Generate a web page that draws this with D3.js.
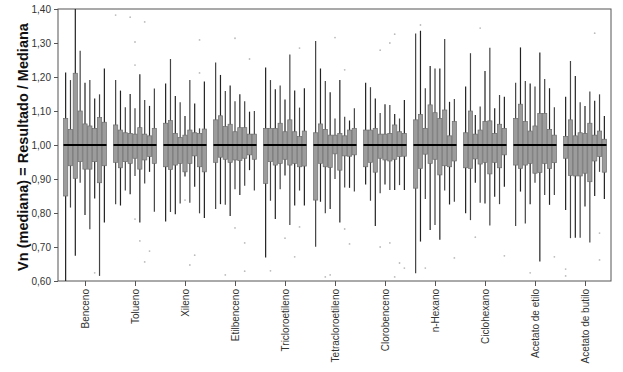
<!DOCTYPE html>
<html>
<head>
<meta charset="utf-8">
<script src="https://cdn.jsdelivr.net/npm/d3@7"></script>
<style>
  body { margin: 0; background: #fff; }
  svg { font-family: "Liberation Sans", Arial, sans-serif; }
</style>
</head>
<body>
<svg id="chart" width="623" height="372"></svg>
<script>
// Compuestos (categorías del eje X)
const categories = ["Benceno", "Tolueno", "Xileno", "Etilbenceno", "Tricloroetileno",
  "Tetracloroetileno", "Clorobenceno", "n-Hexano", "Ciclohexano", "Acetato de etilo", "Acetato de butilo"];

// Marcas del eje Y
const yTicks = [0.60, 0.70, 0.80, 0.90, 1.00, 1.10, 1.20, 1.30, 1.40];

// Mediana (todas las cajas normalizadas)
const median = 1.00;

// Nueve cajas por compuesto: bigote superior, Q3, Q1, bigote inferior
const whiskerHigh = [
  [1.213, 1.191, 1.40, 1.277, 1.183, 1.191, 1.137, 1.149, 1.225],
  [1.191, 1.160, 1.111, 1.150, 1.108, 1.208, 1.132, 1.115, 1.166],
  [1.181, 1.253, 1.144, 1.126, 1.085, 1.191, 1.122, 1.049, 1.187],
  [1.243, 1.206, 1.159, 1.175, 1.129, 1.149, 1.129, 1.098, 1.100],
  [1.228, 1.191, 1.164, 1.175, 1.134, 1.266, 1.160, 1.110, 1.167],
  [1.306, 1.225, 1.188, 1.155, 1.078, 1.191, 1.083, 1.072, 1.108],
  [1.183, 1.170, 1.137, 1.094, 1.120, 1.118, 1.091, 1.078, 1.132],
  [1.328, 1.336, 1.167, 1.232, 1.225, 1.225, 1.312, 1.127, 1.135],
  [1.172, 1.270, 1.088, 1.113, 1.218, 1.286, 1.108, 1.147, 1.142],
  [1.183, 1.287, 1.188, 1.181, 1.172, 1.272, 1.194, 1.167, 1.111],
  [1.142, 1.247, 1.203, 1.126, 1.115, 1.157, 1.130, 1.149, 1.085]
];
const q3 = [
  [1.078, 1.046, 1.211, 1.100, 1.062, 1.056, 1.049, 1.081, 1.067],
  [1.059, 1.044, 1.036, 1.034, 1.032, 1.051, 1.032, 1.027, 1.049],
  [1.064, 1.072, 1.034, 1.022, 1.029, 1.044, 1.036, 1.034, 1.047],
  [1.074, 1.086, 1.054, 1.061, 1.039, 1.051, 1.051, 1.032, 1.032],
  [1.049, 1.049, 1.049, 1.064, 1.039, 1.074, 1.039, 1.025, 1.041],
  [1.036, 1.062, 1.046, 1.029, 1.029, 1.034, 1.027, 1.044, 1.049],
  [1.044, 1.044, 1.049, 1.032, 1.032, 1.034, 1.059, 1.039, 1.034],
  [1.074, 1.090, 1.049, 1.118, 1.095, 1.078, 1.103, 1.027, 1.069],
  [1.036, 1.100, 1.032, 1.044, 1.069, 1.071, 1.034, 1.061, 1.049],
  [1.078, 1.120, 1.069, 1.041, 1.056, 1.093, 1.093, 1.046, 1.029],
  [1.025, 1.074, 1.027, 1.036, 1.034, 1.064, 1.029, 1.041, 1.017]
];
const q1 = [
  [0.850, 0.939, 0.902, 0.951, 0.929, 0.929, 0.951, 0.889, 0.939],
  [0.949, 0.933, 0.951, 0.946, 0.961, 0.929, 0.956, 0.966, 0.946],
  [0.936, 0.928, 0.941, 0.946, 0.921, 0.946, 0.968, 0.936, 0.921],
  [0.949, 0.964, 0.958, 0.949, 0.956, 0.954, 0.961, 0.971, 0.958],
  [0.887, 0.951, 0.941, 0.946, 0.958, 0.941, 0.946, 0.936, 0.938],
  [0.838, 0.946, 0.936, 0.934, 0.974, 0.926, 0.968, 0.967, 0.971],
  [0.936, 0.949, 0.920, 0.961, 0.956, 0.953, 0.958, 0.966, 0.967],
  [0.873, 0.931, 0.973, 0.946, 0.958, 0.912, 0.939, 0.936, 0.953],
  [0.933, 0.931, 0.959, 0.944, 0.949, 0.915, 0.949, 0.933, 0.971],
  [0.941, 0.931, 0.941, 0.946, 0.917, 0.919, 0.946, 0.931, 0.948],
  [0.961, 0.910, 0.909, 0.909, 0.917, 0.892, 0.953, 0.966, 0.920]
];
const whiskerLow = [
  [0.600, 0.816, 0.674, 0.889, 0.794, 0.752, 0.843, 0.615, 0.772],
  [0.826, 0.822, 0.866, 0.855, 0.909, 0.772, 0.887, 0.921, 0.804],
  [0.775, 0.803, 0.796, 0.828, 0.907, 0.830, 0.877, 0.799, 0.785],
  [0.812, 0.826, 0.824, 0.791, 0.870, 0.853, 0.880, 0.926, 0.866],
  [0.669, 0.836, 0.782, 0.870, 0.910, 0.765, 0.822, 0.866, 0.822],
  [0.701, 0.833, 0.799, 0.812, 0.900, 0.772, 0.875, 0.874, 0.863],
  [0.884, 0.836, 0.762, 0.858, 0.884, 0.868, 0.868, 0.882, 0.868],
  [0.623, 0.716, 0.841, 0.750, 0.765, 0.721, 0.866, 0.825, 0.833],
  [0.799, 0.779, 0.889, 0.830, 0.828, 0.763, 0.848, 0.826, 0.877],
  [0.762, 0.863, 0.769, 0.826, 0.889, 0.657, 0.853, 0.824, 0.853],
  [0.809, 0.726, 0.727, 0.727, 0.819, 0.713, 0.850, 0.921, 0.841]
];

// Valores atípicos: [compuesto, caja, valor]
const outliers = [
  [0, 6, 0.624],
  [1, 0, 1.382], [1, 3, 1.376], [1, 6, 1.362], [1, 4, 1.303], [1, 4, 1.235],
  [1, 4, 0.782], [1, 5, 0.718], [1, 7, 0.688], [1, 6, 0.656],
  [2, 7, 1.309], [2, 7, 1.212], [2, 4, 0.838], [2, 5, 0.647], [2, 6, 0.676],
  [3, 4, 1.314], [3, 7, 1.253], [3, 4, 0.756], [3, 6, 0.712], [3, 6, 0.629], [3, 2, 0.618],
  [4, 7, 1.285], [4, 1, 0.630], [4, 4, 0.726], [4, 6, 0.671], [4, 7, 0.759],
  [5, 4, 1.316], [5, 6, 1.221], [5, 6, 0.753], [5, 7, 0.709], [5, 2, 0.612], [5, 3, 0.618],
  [6, 3, 1.279], [6, 5, 1.300], [6, 6, 1.326], [6, 3, 0.700], [6, 5, 0.712],
  [6, 7, 0.653], [6, 6, 0.612], [6, 8, 0.638],
  [7, 2, 0.638], [7, 1, 1.353], [7, 8, 0.668],
  [8, 3, 1.344], [8, 2, 0.729], [8, 8, 0.674],
  [9, 3, 0.624], [9, 8, 0.671],
  [10, 6, 1.329], [10, 0, 0.635], [10, 0, 0.615], [10, 7, 0.741], [10, 7, 0.662]
];

const nBoxes = 9;

const svg = d3.select("#chart");

// Área del gráfico
const mLeft = 58, mRight = 611, mTop = 9, mBottom = 281;

const y = d3.scaleLinear().domain([0.6, 1.4]).range([mBottom, mTop]);
const x = d3.scalePoint().domain(categories).range([85, 585]);
const inner = d3.scaleBand().domain(d3.range(nBoxes)).range([-21.5, 21.5]).paddingInner(0.12);

// Marco
svg.append("rect")
  .attr("x", mLeft).attr("y", mTop)
  .attr("width", mRight - mLeft).attr("height", mBottom - mTop)
  .attr("fill", "none").attr("stroke", "#555").attr("stroke-width", 1);

// Eje Y
const yAxis = svg.append("g")
  .attr("transform", `translate(${mLeft},0)`)
  .call(d3.axisLeft(y).tickValues(yTicks).tickSize(4)
    .tickFormat(d => d3.format(".2f")(d).replace(".", ",")));
yAxis.select(".domain").remove();
yAxis.selectAll("line").attr("stroke", "#555");
yAxis.selectAll("text").attr("fill", "#333").attr("font-size", 10)
  .attr("font-family", "Liberation Sans, Arial, sans-serif");

// Eje X
const xAxis = svg.append("g")
  .attr("transform", `translate(0,${mBottom})`)
  .call(d3.axisBottom(x).tickSize(5).tickSizeOuter(0));
xAxis.select(".domain").remove();
xAxis.selectAll("line").attr("stroke", "#555");
xAxis.selectAll("text")
  .attr("fill", "#333").attr("font-size", 10)
  .attr("font-family", "Liberation Sans, Arial, sans-serif")
  .attr("transform", "rotate(-90)")
  .attr("text-anchor", "end")
  .attr("dy", "0.35em")
  .attr("x", -8).attr("y", 0);

// Título del eje Y
svg.append("text")
  .attr("transform", `translate(28,${(mTop + mBottom) / 2 + 2}) rotate(-90)`)
  .attr("text-anchor", "middle")
  .attr("font-size", 14.5).attr("font-weight", "bold").attr("fill", "#111")
  .text("Vn (mediana) = Resultado / Mediana");

// Datos de cajas
const boxes = [];
categories.forEach((c, gi) => {
  for (let i = 0; i < nBoxes; i++) {
    boxes.push({
      cat: c, gi, i,
      hi: whiskerHigh[gi][i], q3: q3[gi][i], q1: q1[gi][i], lo: whiskerLow[gi][i]
    });
  }
});

const plot = svg.append("g");

const bx = d => x(d.cat) + inner(d.i);
const bc = d => bx(d) + inner.bandwidth() / 2;

// Bigotes
plot.selectAll(".whisker")
  .data(boxes)
  .join("line")
  .attr("class", "whisker")
  .attr("x1", bc).attr("x2", bc)
  .attr("y1", d => y(d.hi)).attr("y2", d => y(d.lo))
  .attr("stroke", (d, k) => k % 2 ? "#444" : "#222")
  .attr("stroke-width", 1.2);

// Cajas
plot.selectAll(".box")
  .data(boxes)
  .join("rect")
  .attr("class", "box")
  .attr("x", bx)
  .attr("width", inner.bandwidth())
  .attr("y", d => y(d.q3))
  .attr("height", d => y(d.q1) - y(d.q3))
  .attr("fill", "#9c9c9c")
  .attr("stroke", "#6e6e6e")
  .attr("stroke-width", 0.7);

// Mediana por compuesto
plot.selectAll(".median")
  .data(categories)
  .join("line")
  .attr("class", "median")
  .attr("x1", d => x(d) + inner(0))
  .attr("x2", d => x(d) + inner(nBoxes - 1) + inner.bandwidth())
  .attr("y1", y(median)).attr("y2", y(median))
  .attr("stroke", "#000").attr("stroke-width", 2);

// Atípicos
plot.selectAll(".outlier")
  .data(outliers)
  .join("circle")
  .attr("class", "outlier")
  .attr("cx", d => x(categories[d[0]]) + inner(d[1]) + inner.bandwidth() / 2)
  .attr("cy", d => y(d[2]))
  .attr("r", 0.9)
  .attr("fill", "#bbb");
</script>
</body>
</html>
